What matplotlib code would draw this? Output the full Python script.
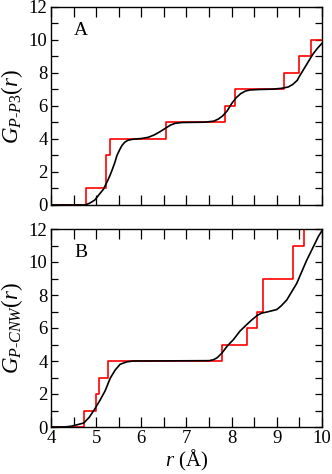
import matplotlib
matplotlib.use("Agg")
import matplotlib.pyplot as plt
from matplotlib.ticker import MultipleLocator

plt.rcParams['font.family'] = ['Liberation Serif', 'DejaVu Serif']
plt.rcParams['mathtext.fontset'] = 'custom'
plt.rcParams['mathtext.rm'] = 'Liberation Serif'
plt.rcParams['mathtext.it'] = 'Liberation Serif:italic'

# panel A: coordination number, P - P3
a_step_r = [4.0, 4.77, 5.22, 5.31, 6.54, 7.85, 8.07, 9.16, 9.48, 9.75, 10.0]
a_step_g = [0, 1, 3, 4, 5, 6, 7, 8, 9, 10, 10]
a_smooth_r = [4.0, 4.75, 4.85, 4.97, 5.07, 5.16, 5.24, 5.30, 5.35, 5.41, 5.46,
              5.52, 5.57, 5.63, 5.70, 5.80, 6.00, 6.15, 6.28, 6.40, 6.55, 6.65,
              6.75, 6.90, 7.40, 7.60, 7.70, 7.80, 7.90, 8.00, 8.10, 8.20, 8.30,
              8.40, 8.60, 8.90, 9.10, 9.25, 9.35, 9.45, 9.50, 9.60, 9.70, 9.80,
              9.90, 10.0]
a_smooth_g = [0, 0, 0.1, 0.3, 0.65, 0.95, 1.4, 1.75, 2.1, 2.55, 3.0,
              3.35, 3.6, 3.8, 3.92, 3.98, 4.03, 4.1, 4.24, 4.42, 4.68, 4.85,
              4.95, 5.0, 5.02, 5.08, 5.2, 5.4, 5.7, 6.15, 6.5, 6.75, 6.9,
              6.97, 7.0, 7.02, 7.07, 7.15, 7.3, 7.55, 7.8, 8.25, 8.7, 9.15,
              9.5, 9.8]

# panel B: coordination number, P - CNW
b_step_r = [4.0, 4.74, 4.99, 5.07, 5.27, 7.79, 8.33, 8.57, 8.70, 9.35, 9.60, 10.0]
b_step_g = [0, 1, 2, 3, 4, 5, 6, 7, 9, 11, 13, 13]
b_smooth_r = [4.0, 4.30, 4.45, 4.60, 4.73, 4.85, 4.97, 5.08, 5.20, 5.31, 5.42,
              5.53, 5.68, 5.82, 6.00, 7.50, 7.60, 7.68, 7.79, 7.90, 8.04, 8.18,
              8.33, 8.45, 8.57, 8.66, 8.78, 8.90, 9.00, 9.10, 9.22, 9.33, 9.44,
              9.55, 9.66, 9.75, 9.84, 9.92, 10.0]
b_smooth_g = [0, 0, 0.05, 0.15, 0.25, 0.6, 1.1, 1.6, 2.2, 2.95, 3.45,
              3.8, 3.95, 4.0, 4.0, 4.02, 4.08, 4.2, 4.5, 4.9, 5.3, 5.8,
              6.2, 6.5, 6.77, 6.9, 6.97, 7.05, 7.12, 7.35, 7.7, 8.2, 8.7,
              9.4, 10.1, 10.6, 11.1, 11.55, 11.9]

W, H = 332, 474
fig = plt.figure(figsize=(W / 100, H / 100), dpi=100)
ax_a = fig.add_axes([51 / W, 1 - 205 / H, 271 / W, 198 / H])
ax_b = fig.add_axes([51 / W, 1 - 427 / H, 271 / W, 198 / H])

panels = [
    (ax_a, a_step_r, a_step_g, a_smooth_r, a_smooth_g, 'A',
     r'$G_{\mathit{P}\text{-}\mathit{P3}}(r)$'),
    (ax_b, b_step_r, b_step_g, b_smooth_r, b_smooth_g, 'B',
     r'$G_{\mathit{P}\text{-}\mathit{CNW}}(r)$'),
]

for ax, sr, sg, cr, cg, tag, ylab in panels:
    ax.step(sr, sg, where='post', color='#ff0000', lw=1.2)
    ax.plot(cr, cg, color='black', lw=1.2)
    ax.set_xlim(4, 10)
    ax.set_ylim(0, 12)
    ax.xaxis.set_major_locator(MultipleLocator(1))
    ax.xaxis.set_minor_locator(MultipleLocator(0.5))
    ax.yaxis.set_major_locator(MultipleLocator(2))
    ax.yaxis.set_minor_locator(MultipleLocator(1))
    ax.tick_params(axis='both', which='both', direction='in', top=True,
                   right=True, labelsize=13.5, width=0.9, pad=2.5)
    ax.tick_params(axis='x', which='both', length=7)
    ax.tick_params(axis='y', which='both', length=5)
    for sp in ax.spines.values():
        sp.set_linewidth(1.0)
    ax.set_ylabel(ylab, fontsize=16.5, labelpad=3)
    ax.text(0.085, 0.925, tag, transform=ax.transAxes, fontsize=14,
            va='top', ha='left')

ax_a.tick_params(axis='x', labelbottom=False)
ax_b.set_xlabel(r'$r$ (Å)', fontsize=15, labelpad=0)

fig.savefig('out.png', dpi=100)
